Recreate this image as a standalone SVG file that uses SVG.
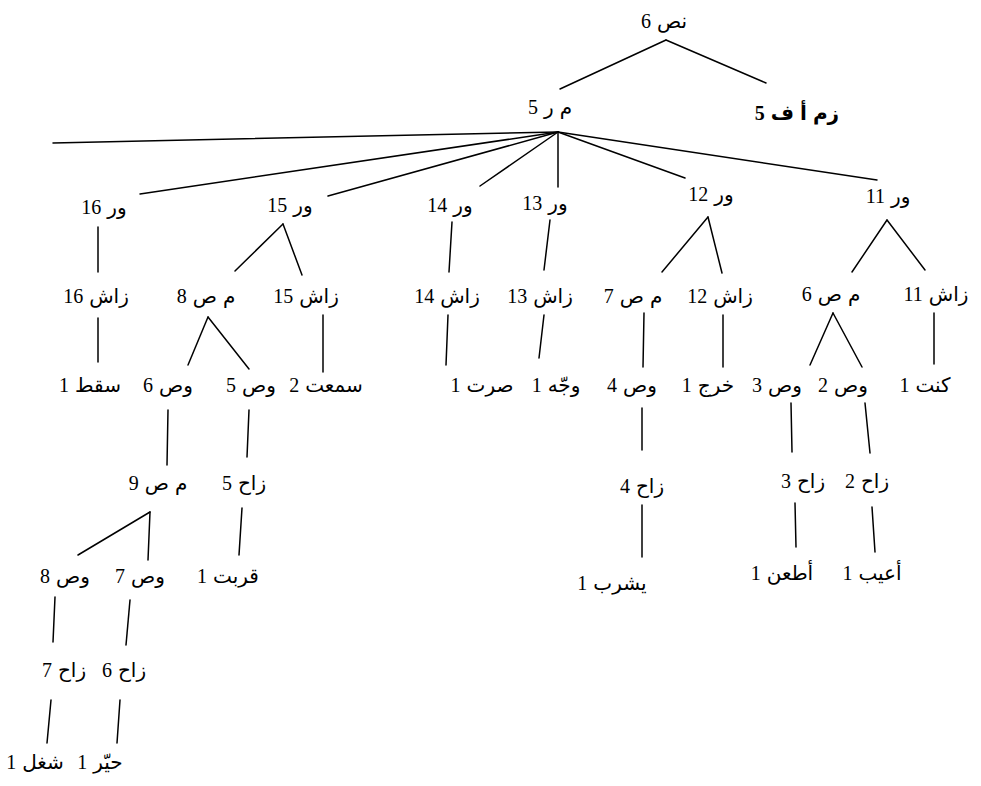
<svg xmlns="http://www.w3.org/2000/svg" width="981" height="786" viewBox="0 0 981 786">
<style>
.t{font-family:"Liberation Serif","DejaVu Sans",serif;font-size:20px;fill:#000;text-anchor:middle;word-spacing:1px}
.b{font-weight:bold}
.c line{stroke:#000;stroke-width:1.5;stroke-linecap:round}
</style>
<rect width="981" height="786" fill="#fff"/>
<g id="connectors" class="c">
<line x1="666" y1="40" x2="560" y2="89"/>
<line x1="666" y1="40" x2="766" y2="83"/>
<line x1="558" y1="132" x2="53" y2="143"/>
<line x1="558" y1="132" x2="140" y2="194"/>
<line x1="558" y1="132" x2="328" y2="196"/>
<line x1="558" y1="132" x2="480" y2="186"/>
<line x1="558" y1="132" x2="558" y2="187"/>
<line x1="558" y1="132" x2="685" y2="178"/>
<line x1="558" y1="132" x2="877" y2="180"/>
<line x1="98" y1="227" x2="98" y2="272"/>
<line x1="283" y1="224" x2="235" y2="271"/>
<line x1="283" y1="224" x2="302" y2="275"/>
<line x1="452" y1="222" x2="449" y2="272"/>
<line x1="550" y1="220" x2="544" y2="270"/>
<line x1="708" y1="217" x2="662" y2="272"/>
<line x1="708" y1="217" x2="722" y2="273"/>
<line x1="887" y1="220" x2="852" y2="272"/>
<line x1="887" y1="220" x2="925" y2="270"/>
<line x1="98" y1="318" x2="98" y2="362"/>
<line x1="208" y1="317" x2="188" y2="365"/>
<line x1="208" y1="317" x2="249" y2="369"/>
<line x1="323" y1="315" x2="323" y2="372"/>
<line x1="448" y1="315" x2="446" y2="365"/>
<line x1="544" y1="315" x2="539" y2="358"/>
<line x1="644" y1="313" x2="643" y2="367"/>
<line x1="723" y1="315" x2="723" y2="367"/>
<line x1="833" y1="313" x2="810" y2="365"/>
<line x1="833" y1="313" x2="862" y2="367"/>
<line x1="934" y1="313" x2="934" y2="364"/>
<line x1="168" y1="410" x2="167" y2="465"/>
<line x1="249" y1="410" x2="247" y2="457"/>
<line x1="642" y1="408" x2="642" y2="450"/>
<line x1="791" y1="403" x2="792" y2="452"/>
<line x1="865" y1="403" x2="870" y2="453"/>
<line x1="150" y1="512" x2="78" y2="555"/>
<line x1="150" y1="512" x2="148" y2="560"/>
<line x1="242" y1="508" x2="239" y2="555"/>
<line x1="642" y1="505" x2="642" y2="557"/>
<line x1="795" y1="503" x2="796" y2="547"/>
<line x1="872" y1="507" x2="875" y2="552"/>
<line x1="55" y1="597" x2="53" y2="642"/>
<line x1="130" y1="600" x2="126" y2="645"/>
<line x1="51" y1="700" x2="47" y2="743"/>
<line x1="120" y1="700" x2="117" y2="743"/>
</g>
<g id="n-nas6"><text class="t" x="664" y="28">نص 6</text></g>
<g id="n-mr5"><text class="t" x="550" y="114">م ر 5</text></g>
<g id="n-zmaf5"><text class="t b" x="797" y="120">زم أ ف 5</text></g>
<g id="n-wr16"><text class="t" x="104" y="214">ور 16</text></g>
<g id="n-wr15"><text class="t" x="290" y="212">ور 15</text></g>
<g id="n-wr14"><text class="t" x="450" y="212">ور 14</text></g>
<g id="n-wr13"><text class="t" x="545" y="210">ور 13</text></g>
<g id="n-wr12"><text class="t" x="711" y="201">ور 12</text></g>
<g id="n-wr11"><text class="t" x="888" y="203">ور 11</text></g>
<g id="n-zash16"><text class="t" x="96" y="303">زاش 16</text></g>
<g id="n-ms8"><text class="t" x="206" y="303">م ص 8</text></g>
<g id="n-zash15"><text class="t" x="306" y="303">زاش 15</text></g>
<g id="n-zash14"><text class="t" x="447" y="303">زاش 14</text></g>
<g id="n-zash13"><text class="t" x="540" y="303">زاش 13</text></g>
<g id="n-ms7"><text class="t" x="633" y="303">م ص 7</text></g>
<g id="n-zash12"><text class="t" x="720" y="303">زاش 12</text></g>
<g id="n-ms6"><text class="t" x="831" y="301">م ص 6</text></g>
<g id="n-zash11"><text class="t" x="936" y="301">زاش 11</text></g>
<g id="n-saqata1"><text class="t" x="90" y="392">سقط 1</text></g>
<g id="n-ws6"><text class="t" x="168" y="392">وص 6</text></g>
<g id="n-ws5"><text class="t" x="251" y="392">وص 5</text></g>
<g id="n-samiat2"><text class="t" x="326" y="392">سمعت 2</text></g>
<g id="n-sirt1"><text class="t" x="482" y="392">صرت 1</text></g>
<g id="n-wajjah1"><text class="t" x="556" y="392">وجّه 1</text></g>
<g id="n-ws4"><text class="t" x="632" y="392">وص 4</text></g>
<g id="n-kharaj1"><text class="t" x="708" y="392">خرج 1</text></g>
<g id="n-ws3"><text class="t" x="777" y="392">وص 3</text></g>
<g id="n-ws2"><text class="t" x="843" y="392">وص 2</text></g>
<g id="n-kunt1"><text class="t" x="925" y="392">كنت 1</text></g>
<g id="n-ms9"><text class="t" x="158" y="490">م ص 9</text></g>
<g id="n-zah5"><text class="t" x="244" y="490">زاح 5</text></g>
<g id="n-zah4"><text class="t" x="642" y="493">زاح 4</text></g>
<g id="n-zah3"><text class="t" x="803" y="488">زاح 3</text></g>
<g id="n-zah2"><text class="t" x="867" y="488">زاح 2</text></g>
<g id="n-ws8"><text class="t" x="65" y="583">وص 8</text></g>
<g id="n-ws7"><text class="t" x="140" y="583">وص 7</text></g>
<g id="n-qarubt1"><text class="t" x="228" y="583">قربت 1</text></g>
<g id="n-yashrab1"><text class="t" x="612" y="590">يشرب 1</text></g>
<g id="n-atan1"><text class="t" x="782" y="580">أطعن 1</text></g>
<g id="n-aib1"><text class="t" x="872" y="580">أعيب 1</text></g>
<g id="n-zah7"><text class="t" x="64" y="677">زاح 7</text></g>
<g id="n-zah6"><text class="t" x="124" y="677">زاح 6</text></g>
<g id="n-shaghal1"><text class="t" x="35" y="769">شغل 1</text></g>
<g id="n-hayyar1"><text class="t" x="100" y="769">حيّر 1</text></g>
</svg>
